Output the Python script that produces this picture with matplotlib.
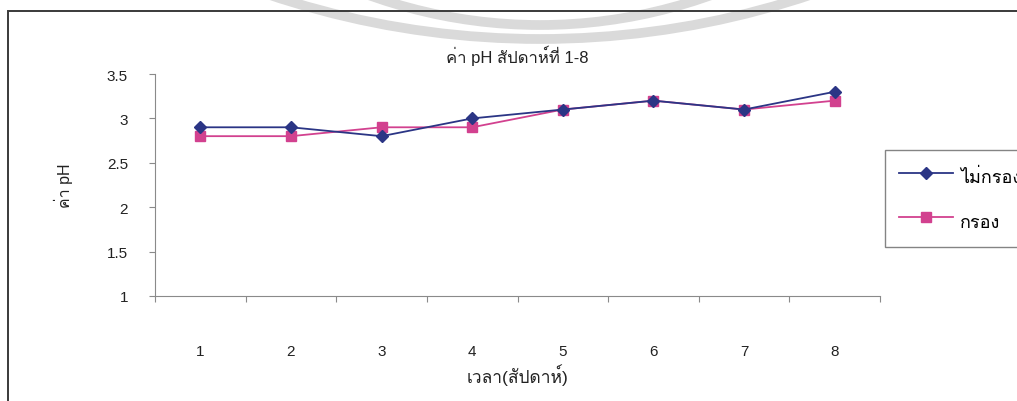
import numpy as np
import matplotlib
matplotlib.use("Agg")
import matplotlib.pyplot as plt
from matplotlib.patches import Arc, Rectangle
from matplotlib.ticker import FixedLocator, NullFormatter

plt.rcParams["font.family"] = ["Liberation Sans", "Loma", "DejaVu Sans"]

# weekly pH readings
weeks = [1, 2, 3, 4, 5, 6, 7, 8]
ph_unfiltered = [2.9, 2.9, 2.8, 3.0, 3.1, 3.2, 3.1, 3.3]
ph_filtered = [2.8, 2.8, 2.9, 2.9, 3.1, 3.2, 3.1, 3.2]
y_ticks = [1, 1.5, 2, 2.5, 3, 3.5]
y_labels = ["1", "1.5", "2", "2.5", "3", "3.5"]

C_BLUE = "#2b3585"
C_PINK = "#d2418f"
C_AXIS = "#8a8a8a"
C_TEXT = "#222222"

fig = plt.figure(figsize=(10.17, 4.02), dpi=100)
ax = fig.add_axes([0.1524, 0.2612, 0.7129, 0.5522])

# faint seal rings along the top edge of the page
for cx, cy, r in [(5.40, 12.13, 8.51), (5.40, 8.81, 5.05)]:
    fig.patches.append(Arc((cx, cy), 2 * r, 2 * r, theta1=240, theta2=300,
                           transform=fig.dpi_scale_trans, color="#dadada",
                           linewidth=7, zorder=0))

# page frame
fig.patches.append(Rectangle((8 / 1017, -0.01), 1.1, (402 - 12) / 402 + 0.01,
                             transform=fig.transFigure, fill=False,
                             edgecolor="#3a3a3a", linewidth=1.4, zorder=1))

ax.plot(weeks, ph_unfiltered, color=C_BLUE, marker="D", markersize=6.5,
        linewidth=1.3, label="ไม่กรอง", zorder=4)
ax.plot(weeks, ph_filtered, color=C_PINK, marker="s", markersize=6.5,
        linewidth=1.3, label="กรอง", zorder=3)

ax.set_xlim(0.5, 8.5)
ax.set_ylim(1, 3.5)
ax.set_facecolor("none")

# category axis: ticks between weeks, labels centred on weeks
ax.xaxis.set_major_locator(FixedLocator(np.arange(0.5, 9, 1)))
ax.xaxis.set_major_formatter(NullFormatter())
ax.set_xticks(weeks, [str(w) for w in weeks], minor=True)
ax.tick_params(axis="x", which="major", direction="out", length=4.5,
               color=C_AXIS, width=0.8)
ax.tick_params(axis="x", which="minor", length=0, pad=34.5, labelsize=11,
               labelcolor=C_TEXT)

ax.set_yticks(y_ticks, y_labels)
ax.tick_params(axis="y", direction="out", length=4.5, color=C_AXIS,
               width=0.8, pad=15, labelsize=11, labelcolor=C_TEXT)

for side in ["top", "right"]:
    ax.spines[side].set_visible(False)
for side in ["left", "bottom"]:
    ax.spines[side].set_color(C_AXIS)
    ax.spines[side].set_linewidth(0.8)

ax.set_title("ค่า pH สัปดาห์ที่ 1-8", fontsize=12, color=C_TEXT, pad=9)
ax.set_xlabel("เวลา(สัปดาห์)", fontsize=12.5, color=C_TEXT, labelpad=4)
ax.set_ylabel("ค่า pH", fontsize=11.5, color=C_TEXT, labelpad=24)

fig.legend(loc="upper left", bbox_to_anchor=(885 / 1017, 1 - 151 / 402),
           frameon=True, fancybox=False, edgecolor="#666666",
           fontsize=13, handlelength=3.0, handleheight=1.8,
           handletextpad=0.4, labelspacing=1.05, borderpad=0.75,
           borderaxespad=0)

fig.savefig("out.png", dpi=100, facecolor="white")
